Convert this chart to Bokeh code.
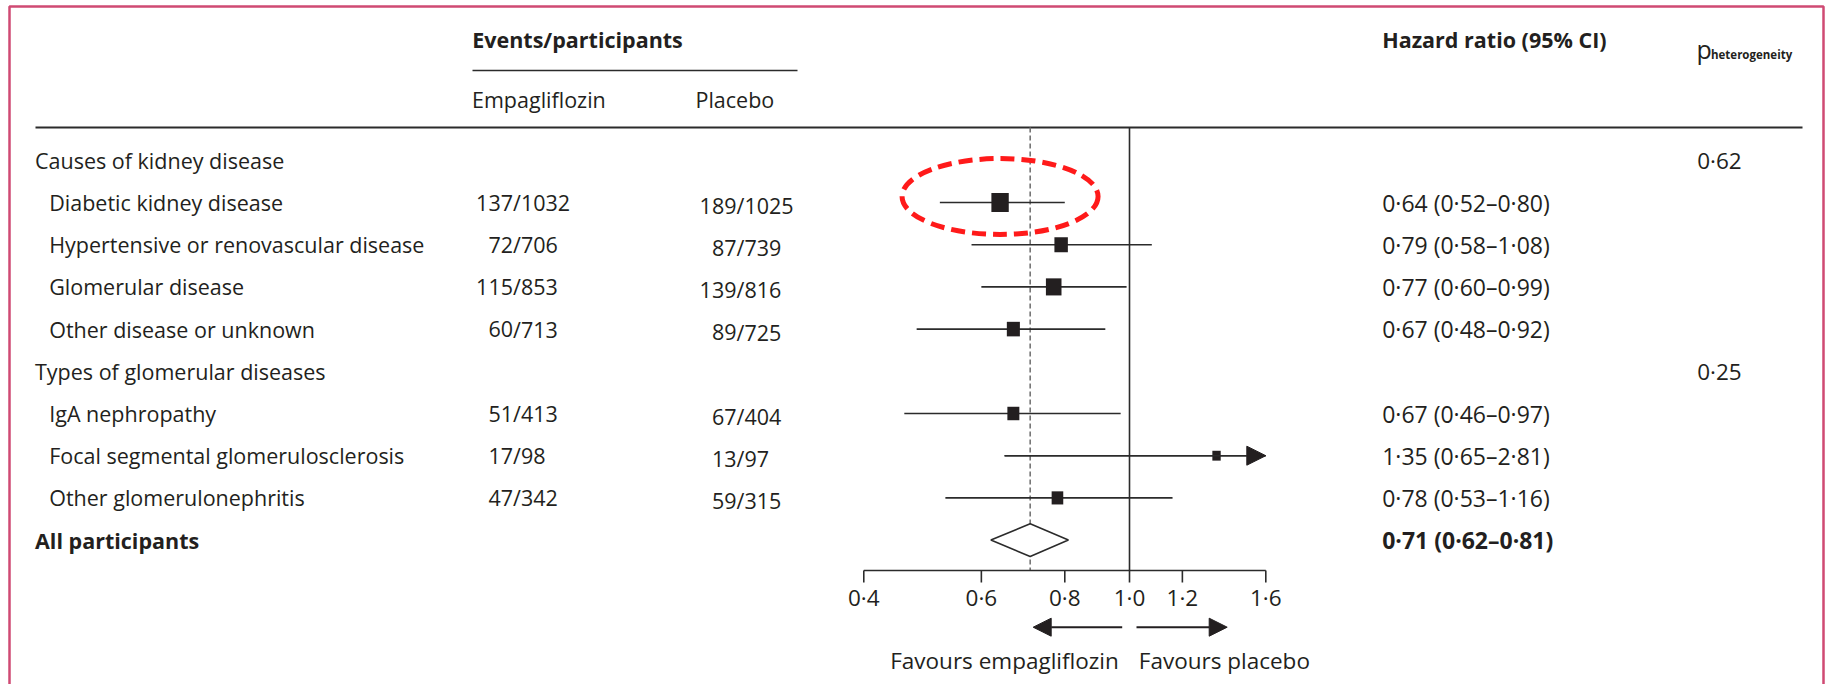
import numpy as np
from bokeh.plotting import figure
from bokeh.models import Range1d, LinearScale, Arrow, NormalHead
from bokeh.core.properties import value
from bokeh.embed import file_html
from bokeh.resources import INLINE

# ---------------- data ----------------
row_labels = [
    "Causes of kidney disease",
    "Diabetic kidney disease",
    "Hypertensive or renovascular disease",
    "Glomerular disease",
    "Other disease or unknown",
    "Types of glomerular diseases",
    "IgA nephropathy",
    "Focal segmental glomerulosclerosis",
    "Other glomerulonephritis",
    "All participants",
]
row_kind = ["group", "sub", "sub", "sub", "sub", "group", "sub", "sub", "sub", "total"]

emp_events = [137, 72, 115, 60, 51, 17, 47]
emp_n = [1032, 706, 853, 713, 413, 98, 342]
pla_events = [189, 87, 139, 89, 67, 13, 59]
pla_n = [1025, 739, 816, 725, 404, 97, 315]
hr = [0.64, 0.79, 0.77, 0.67, 0.67, 1.35, 0.78]
hr_lo = [0.52, 0.58, 0.60, 0.48, 0.46, 0.65, 0.53]
hr_hi = [0.80, 1.08, 0.99, 0.92, 0.97, 2.81, 1.16]

overall_hr, overall_lo, overall_hi = 0.71, 0.62, 0.81
p_het = ["0·62", "0·25"]

tick_values = [0.4, 0.6, 0.8, 1.0, 1.2, 1.6]
tick_labels = ["0·4", "0·6", "0·8", "1·0", "1·2", "1·6"]

# ---------------- layout / style ----------------
W, H = 1828, 684
FONT = "Open Sans"
INK = "#231F20"
LINE = "#2b2b2b"
FS = 21.5

x_at_one = 1129.0      # canvas x of HR = 1
px_per_ln = 290.0      # pixels per natural-log unit
x_start = float(np.exp(-x_at_one / px_per_ln))
x_end = float(np.exp((W - x_at_one) / px_per_ln))

row0 = 159.8
row_h = 42.2
y_bottom = (H - row0) / row_h
y_top = -row0 / row_h

p = figure(width=W, height=H, x_axis_type="log",
           x_range=Range1d(x_start, x_end), y_range=Range1d(y_bottom, y_top),
           x_axis_location=None, y_axis_location=None,
           toolbar_location=None, output_backend="svg", min_border=0,
           outline_line_color=None, background_fill_color="white",
           border_fill_color="white")
p.grid.visible = False
p.extra_x_ranges = {"px": Range1d(0, W)}
p.extra_x_scales = {"px": LinearScale()}
p.extra_y_ranges = {"py": Range1d(H, 0)}
p.extra_y_scales = {"py": LinearScale()}


def txt(x, y, t, align="left", size=FS, bold=False, xr="px", yr="default",
        baseline="middle", color=INK):
    p.text(x=x, y=y, text=t, text_font=value(FONT),
           text_font_size=f"{size}px",
           text_font_style="bold" if bold else "normal",
           text_align=align, text_baseline=baseline, text_color=color,
           x_range_name=xr, y_range_name=yr)


data_rows = [i for i, k in enumerate(row_kind) if k == "sub"]
group_rows = [i for i, k in enumerate(row_kind) if k == "group"]
total_row = row_kind.index("total")

# ---------------- border & rules ----------------
p.line(x=[9, 9, 1823, 1823], y=[H + 10, 6, 6, H + 10], line_color="#CF4A73",
       line_width=2.5, x_range_name="px", y_range_name="py")
p.segment(x0=[35], x1=[1802], y0=[127], y1=[127], line_color=LINE,
          line_width=2, x_range_name="px", y_range_name="py")
p.segment(x0=[472], x1=[797], y0=[70], y1=[70], line_color=LINE,
          line_width=1.6, x_range_name="px", y_range_name="py")

# ---------------- headers ----------------
txt([471.7], [39.3], ["Events/participants"], bold=True, yr="py")
txt([471.5], [99.3], ["Empagliflozin"], yr="py")
txt([695.0], [99.3], ["Placebo"], yr="py")
txt([1381.7], [39.3], ["Hazard ratio (95% CI)"], bold=True, yr="py")
txt([1696.0], [48.5], ["p"], size=25, yr="py", baseline="alphabetic")
txt([1710.5], [53.5], ["heterogeneity"], size=11.5, bold=True, yr="py",
    baseline="alphabetic")

# ---------------- row labels ----------------
for i, lab in enumerate(row_labels):
    k = row_kind[i]
    xlab = 48.7 if k == "sub" else 34.5
    txt([xlab], [i], [lab], bold=(k == "total"))

# ---------------- events / participants ----------------
emp_slash, pla_slash = 512.5, 736.0
txt([emp_slash] * len(data_rows), data_rows, [str(e) for e in emp_events], align="right")
txt([emp_slash] * len(data_rows), data_rows, ["/" + str(n) for n in emp_n])
pla_y = [r + 3.0 / row_h for r in data_rows]
txt([pla_slash] * len(data_rows), pla_y, [str(e) for e in pla_events], align="right")
txt([pla_slash] * len(data_rows), pla_y, ["/" + str(n) for n in pla_n])

# ---------------- hazard ratio text ----------------
def fmt(h, l, u):
    return f"{h:.2f} ({l:.2f}–{u:.2f})".replace(".", "·")

txt([1381.7] * len(data_rows), data_rows,
    [fmt(h, l, u) for h, l, u in zip(hr, hr_lo, hr_hi)], size=23)
txt([1381.7], [total_row], [fmt(overall_hr, overall_lo, overall_hi)], bold=True, size=23)
txt([1696.7] * len(group_rows), group_rows, p_het, size=22.5)

# ---------------- forest plot ----------------
ax_min, ax_max = tick_values[0], tick_values[-1]
# reference lines
p.segment(x0=[1.0], x1=[1.0], y0=[127], y1=[570], line_color=LINE,
          line_width=1.6, y_range_name="py")
p.segment(x0=[overall_hr], x1=[overall_hr], y0=[127], y1=[570],
          line_color="#767676", line_width=1.6, line_dash="5 3",
          y_range_name="py")

# CIs
p.segment(x0=hr_lo, x1=[min(u, ax_max) for u in hr_hi], y0=data_rows,
          y1=data_rows, line_color=LINE, line_width=1.6)
for i, r in enumerate(data_rows):
    if hr_hi[i] > ax_max:
        p.add_layout(Arrow(end=NormalHead(size=19, fill_color=INK, line_color=INK,
                                          line_width=1),
                           x_start=hr_lo[i], y_start=r, x_end=ax_max, y_end=r,
                           line_color=LINE, line_width=1.6))

# squares sized by precision
sq = [4.6 + 5.5 / np.log(u / l) for l, u in zip(hr_lo, hr_hi)]
p.rect(x=hr, y=data_rows, width=sq, height=[s + 1.5 for s in sq],
       width_units="screen", height_units="screen",
       fill_color=INK, line_color=None)

# overall diamond
dh = 16.3 / row_h
p.patch(x=[overall_lo, overall_hr, overall_hi, overall_hr],
        y=[total_row, total_row - dh, total_row, total_row + dh],
        fill_color="white", line_color=LINE, line_width=1.6)

# axis
p.segment(x0=[ax_min], x1=[ax_max], y0=[570], y1=[570], line_color=LINE,
          line_width=1.6, y_range_name="py")
p.segment(x0=tick_values, x1=tick_values, y0=[570] * len(tick_values),
          y1=[582] * len(tick_values), line_color=LINE, line_width=1.6,
          y_range_name="py")
txt(tick_values, [597] * len(tick_values), tick_labels, align="center",
    size=22.5, xr="default", yr="py")

# favours arrows
p.add_layout(Arrow(end=NormalHead(size=18, fill_color=INK, line_color=INK, line_width=1),
                   x_start=1121.7, y_start=626.7, x_end=1032.7, y_end=626.7,
                   line_color=INK, line_width=2,
                   x_range_name="px", y_range_name="py"))
p.add_layout(Arrow(end=NormalHead(size=18, fill_color=INK, line_color=INK, line_width=1),
                   x_start=1136.0, y_start=626.7, x_end=1226.7, y_end=626.7,
                   line_color=INK, line_width=2,
                   x_range_name="px", y_range_name="py"))
txt([1118.3], [660], ["Favours empagliflozin"], align="right", size=22.5, yr="py")
txt([1138.3], [660], ["Favours placebo"], size=22.5, yr="py")

# highlight ellipse around the diabetic kidney disease estimate
p.ellipse(x=[hr[0]], y=[196], width=196, height=76,
          width_units="screen", height_units="screen",
          fill_color=None, line_color="#FF1A1A", line_width=5,
          line_dash="14 7", y_range_name="py")

open("out.html", "w").write(file_html(p, INLINE, "Forest plot"))
